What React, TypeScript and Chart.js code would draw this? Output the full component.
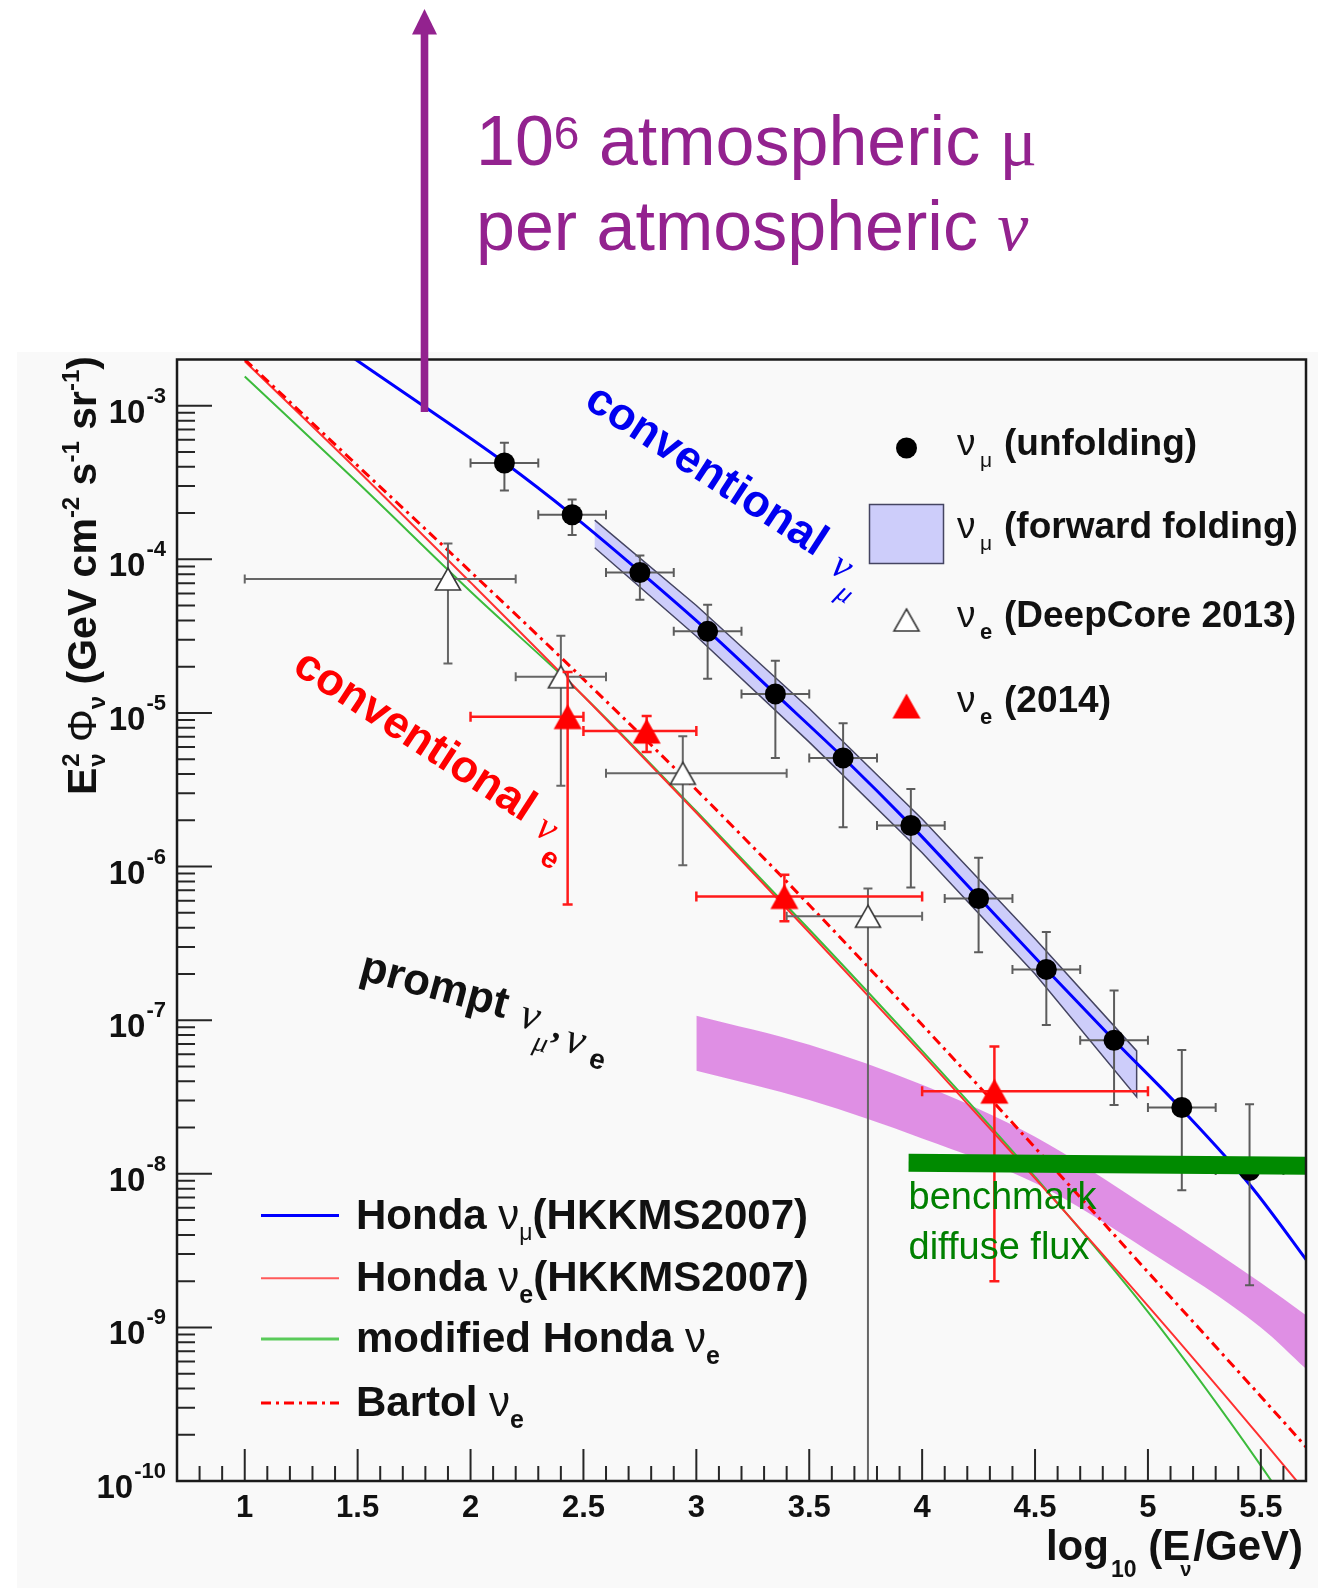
import React, { useEffect, useRef } from "react";
import { Chart, registerables } from "chart.js";

Chart.register(...registerables);

const WIDTH = 1334;
const HEIGHT = 1588;

const SANS = '"Liberation Sans", Arial, Helvetica, sans-serif';
const SERIF = '"Liberation Serif", "Times New Roman", serif';
const PURPLE = "#93228f";

// Axis ranges: x = log10(E_nu / GeV), y = E^2 Phi (GeV cm^-2 s^-1 sr^-1)
const X_MIN = 0.7;
const X_MAX = 5.7;
const Y_MIN = 1e-10;
const Y_MAX = 2e-3;
const xTickLabels = [1, 1.5, 2, 2.5, 3, 3.5, 4, 4.5, 5, 5.5];
const yTickExponents = [-10, -9, -8, -7, -6, -5, -4, -3];

// nu_mu unfolded spectrum (black circles)
const unfoldX = [2.15, 2.45, 2.75, 3.05, 3.35, 3.65, 3.95, 4.25, 4.55, 4.85, 5.15, 5.45];
const unfoldXLow = [2.0, 2.3, 2.6, 2.9, 3.2, 3.5, 3.8, 4.1, 4.4, 4.7, 5.0, 5.3];
const unfoldXHigh = [2.3, 2.6, 2.9, 3.2, 3.5, 3.8, 4.1, 4.4, 4.7, 5.0, 5.3, 5.6];
const unfoldY = [4.24e-4, 1.95e-4, 8.2e-5, 3.4e-5, 1.33e-5, 5.1e-6, 1.85e-6, 6.2e-7, 2.14e-7, 7.4e-8, 2.7e-8, 1.05e-8];
const unfoldYHigh = [5.74e-4, 2.45e-4, 1.06e-4, 5.06e-5, 2.19e-5, 8.57e-6, 3.2e-6, 1.14e-6, 3.75e-7, 1.56e-7, 6.4e-8, 2.84e-8];
const unfoldYLow = [2.81e-4, 1.44e-4, 5.46e-5, 1.67e-5, 5.1e-6, 1.8e-6, 7.3e-7, 2.77e-7, 9.3e-8, 2.8e-8, 7.8e-9, 1.88e-9];

// nu_e DeepCore 2013 (open triangles)
const dcX = [1.9, 2.4, 2.94, 3.76];
const dcXLow = [1.0, 2.2, 2.6, 3.4];
const dcXHigh = [2.2, 2.6, 3.4, 4.0];
const dcY = [7.45e-5, 1.72e-5, 4.05e-6, 4.75e-7];
const dcYHigh = [1.27e-4, 3.18e-5, 7.06e-6, 7.2e-7];
const dcYLow = [2.1e-5, 3.36e-6, 1.02e-6, 1e-11];

// nu_e 2014 (red triangles)
const nue14X = [2.43, 2.78, 3.39, 4.32];
const nue14XLow = [2.0, 2.5, 3.0, 4.0];
const nue14XHigh = [2.5, 3.0, 4.0, 5.0];
const nue14Y = [9.46e-6, 7.62e-6, 6.38e-7, 3.45e-8];
const nue14YHigh = [1.85e-5, 9.55e-6, 8.85e-7, 6.75e-8];
const nue14YLow = [5.66e-7, 5.58e-6, 4.4e-7, 2.0e-9];

// nu_mu forward folding band
const ffX = [2.55, 3.0, 3.5, 4.0, 4.5, 4.95];
const ffYUpper = [1.8e-4, 5.01e-5, 1.07e-5, 2.04e-6, 3.39e-7, 6.31e-8];
const ffYLower = [1.19e-4, 3.16e-5, 6.46e-6, 1.23e-6, 2.0e-7, 3.16e-8];

// prompt nu_mu, nu_e band
const promptX = [3.0, 3.5, 4.0, 4.5, 5.0, 5.5, 5.7];
const promptYUpper = [1.07e-7, 6.92e-8, 3.8e-8, 1.74e-8, 6.03e-9, 1.95e-9, 1.2e-9];
const promptYLower = [4.68e-8, 3.02e-8, 1.7e-8, 8.71e-9, 3.16e-9, 1.0e-9, 5.37e-10];

// Honda nu_mu (HKKMS2007)
const hondaMuX = [1.45, 1.8, 2.15, 2.45, 2.75, 3.05, 3.35, 3.65, 3.95, 4.25, 4.55, 4.85, 5.15, 5.45, 5.75];
const hondaMuY = [2.2e-3, 9.77e-4, 4.27e-4, 1.95e-4, 8.32e-5, 3.43e-5, 1.33e-5, 5.13e-6, 1.86e-6, 6.31e-7, 2.14e-7, 7.41e-8, 2.63e-8, 8.51e-9, 2.2e-9];

// nu_e model curves share the same energy grid
const nueModelX = [1.0, 1.5, 2.0, 2.5, 3.0, 3.5, 4.0, 4.5, 5.0, 5.5, 5.75];
const hondaEY = [1.95e-3, 3.8e-4, 7.08e-5, 1.29e-5, 2.24e-6, 3.72e-7, 6.03e-8, 9.33e-9, 1.38e-9, 1.91e-10, 6.9e-11];
const modHondaEY = [1.55e-3, 3.16e-4, 6.17e-5, 1.29e-5, 2.29e-6, 3.89e-7, 6.31e-8, 9.55e-9, 1.26e-9, 1.26e-10, 3.55e-11];
const bartolEY = [2.0e-3, 4.07e-4, 8.32e-5, 1.66e-5, 3.16e-6, 5.62e-7, 9.33e-8, 1.48e-8, 2.29e-9, 3.55e-10, 1.38e-10];

// benchmark diffuse flux
const benchmarkX = [3.94, 5.7];
const benchmarkY = [1.18e-8, 1.13e-8];

const COL = {
  blue: "#0000ff",
  red: "#ff3030",
  green: "#3cbb3c",
  bartol: "#ff0000",
  band: "rgba(190, 190, 250, 0.75)",
  bandEdge: "#454562",
  prompt: "rgba(216, 116, 222, 0.8)",
  bench: "#008a00",
};

const pts = (xs: number[], ys: number[]) => xs.map((x, i) => ({ x, y: ys[i] }));
const band = (xs: number[], upper: number[], lower: number[]) => [
  ...pts(xs, upper),
  ...pts(xs, lower).reverse(),
];

type Seg = { t: string; f: string; c?: string; dx?: number; dy?: number; at?: number; mid?: number; stack?: boolean };

function drawSegs(
  ctx: CanvasRenderingContext2D,
  x: number,
  y: number,
  angle: number,
  color: string,
  segs: Seg[],
  align: "left" | "right" = "left"
) {
  ctx.save();
  ctx.translate(x, y);
  if (angle) ctx.rotate(angle);
  ctx.textBaseline = "alphabetic";
  ctx.textAlign = "left";
  const placed: { s: Seg; left: number }[] = [];
  let pos = 0;
  let prevLeft = 0;
  for (const s of segs) {
    ctx.font = s.f;
    const w = ctx.measureText(s.t).width;
    let left: number;
    if (s.mid !== undefined) left = s.mid - w / 2;
    else if (s.at !== undefined) left = s.at;
    else if (s.stack) left = prevLeft;
    else left = pos + (s.dx ?? 0);
    placed.push({ s, left });
    prevLeft = left;
    pos = s.stack ? Math.max(pos, left + w) : left + w;
  }
  const shift = align === "right" ? -pos : 0;
  for (const { s, left } of placed) {
    ctx.font = s.f;
    ctx.fillStyle = s.c ?? color;
    ctx.fillText(s.t, left + shift, s.dy ?? 0);
  }
  ctx.restore();
}

function makeTriangle(w: number, h: number, fill: string, stroke: string, lw: number) {
  const c = document.createElement("canvas");
  const pad = 2;
  c.width = Math.ceil(w / 2) * 2 + pad * 2;
  c.height = Math.ceil(h / 2) * 2 + pad * 2;
  const g = c.getContext("2d")!;
  const cx = c.width / 2;
  const top = (c.height - h) / 2;
  g.beginPath();
  g.moveTo(cx, top);
  g.lineTo(cx + w / 2, top + h);
  g.lineTo(cx - w / 2, top + h);
  g.closePath();
  g.fillStyle = fill;
  g.fill();
  if (lw > 0) {
    g.strokeStyle = stroke;
    g.lineWidth = lw;
    g.lineJoin = "miter";
    g.stroke();
  }
  return c;
}

type ErrSet = {
  x: number[]; y: number[]; xLow: number[]; xHigh: number[]; yLow: number[]; yHigh: number[];
  color: string; width: number; cap: number;
};

const errorSets: Record<string, ErrSet> = {
  unfolding: { x: unfoldX, y: unfoldY, xLow: unfoldXLow, xHigh: unfoldXHigh, yLow: unfoldYLow, yHigh: unfoldYHigh, color: "#5c5c5c", width: 2, cap: 4.5 },
  deepcore: { x: dcX, y: dcY, xLow: dcXLow, xHigh: dcXHigh, yLow: dcYLow, yHigh: dcYHigh, color: "#666666", width: 2, cap: 4.5 },
  nue2014: { x: nue14X, y: nue14Y, xLow: nue14XLow, xHigh: nue14XHigh, yLow: nue14YLow, yHigh: nue14YHigh, color: "#ff1a1a", width: 2.5, cap: 5 },
};

const errorBarPlugin = {
  id: "errorBars",
  beforeDatasetDraw(chart: any, args: any) {
    const ds = chart.data.datasets[args.index];
    const set = errorSets[ds.errKey];
    if (!set) return;
    const { ctx, chartArea: a } = chart;
    const xs = chart.scales.x;
    const ys = chart.scales.y;
    ctx.save();
    ctx.beginPath();
    ctx.rect(a.left, a.top, a.right - a.left, a.bottom - a.top);
    ctx.clip();
    ctx.strokeStyle = set.color;
    ctx.lineWidth = set.width;
    ctx.beginPath();
    set.x.forEach((xv, i) => {
      const py = ys.getPixelForValue(set.y[i]);
      const px = xs.getPixelForValue(xv);
      const xl = xs.getPixelForValue(set.xLow[i]);
      const xh = xs.getPixelForValue(set.xHigh[i]);
      const yt = ys.getPixelForValue(set.yHigh[i]);
      const yb = ys.getPixelForValue(set.yLow[i]);
      ctx.moveTo(xl, py); ctx.lineTo(xh, py);
      ctx.moveTo(xl, py - set.cap); ctx.lineTo(xl, py + set.cap);
      ctx.moveTo(xh, py - set.cap); ctx.lineTo(xh, py + set.cap);
      ctx.moveTo(px, yt); ctx.lineTo(px, yb);
      ctx.moveTo(px - set.cap, yt); ctx.lineTo(px + set.cap, yt);
      ctx.moveTo(px - set.cap, yb); ctx.lineTo(px + set.cap, yb);
    });
    ctx.stroke();
    ctx.restore();
  },
};

const backgroundPlugin = {
  id: "pageBackground",
  beforeDraw(chart: any) {
    const { ctx } = chart;
    ctx.save();
    ctx.fillStyle = "#ffffff";
    ctx.fillRect(0, 0, WIDTH, HEIGHT);
    ctx.fillStyle = "#f9f9f9";
    ctx.fillRect(17, 352, 1301, HEIGHT - 352);
    ctx.restore();
  },
};

function makeDecorPlugin(triOpen: HTMLCanvasElement, triRed: HTMLCanvasElement) {
  return {
    id: "decor",
    afterDraw(chart: any) {
      const { ctx, chartArea: a } = chart;
      const xs = chart.scales.x;
      const ys = chart.scales.y;
      const deg = Math.PI / 180;

      // ticks (inside the frame)
      ctx.save();
      ctx.strokeStyle = "#262626";
      ctx.lineWidth = 2;
      ctx.beginPath();
      for (const e of yTickExponents) {
        for (let k = 1; k <= 9; k++) {
          const v = k * Math.pow(10, e);
          if (v > Y_MAX * 0.999) continue;
          const py = ys.getPixelForValue(v);
          const len = k === 1 ? 35 : 18;
          ctx.moveTo(a.left, py);
          ctx.lineTo(a.left + len, py);
        }
      }
      for (let i = Math.round(X_MIN * 10) + 1; i < Math.round(X_MAX * 10); i++) {
        const px = xs.getPixelForValue(i / 10);
        const len = i % 5 === 0 ? 32 : 15;
        ctx.moveTo(px, a.bottom);
        ctx.lineTo(px, a.bottom - len);
      }
      ctx.stroke();
      ctx.lineWidth = 2.5;
      ctx.strokeStyle = "#1a1a1a";
      ctx.strokeRect(a.left, a.top, a.right - a.left, a.bottom - a.top);
      ctx.restore();

      // tick labels
      for (const e of yTickExponents) {
        const py = ys.getPixelForValue(Math.pow(10, e));
        drawSegs(ctx, 166, py + 17, 0, "#111", [
          { t: "10", f: `bold 33px ${SANS}` },
          { t: String(e), f: `bold 22px ${SANS}`, dy: -20, dx: 1 },
        ], "right");
      }
      ctx.save();
      ctx.fillStyle = "#111";
      ctx.font = `bold 31px ${SANS}`;
      ctx.textAlign = "center";
      ctx.textBaseline = "alphabetic";
      for (const v of xTickLabels) {
        ctx.fillText(String(v), xs.getPixelForValue(v), 1517);
      }
      ctx.restore();

      // axis titles
      const B41 = `bold 41px ${SANS}`;
      const B24 = `bold 24px ${SANS}`;
      drawSegs(ctx, 96, 795, -90 * deg, "#111", [
        { t: "E", f: B41 },
        { t: "2", f: B24, dy: -17, dx: 1 },
        { t: "ν", f: B24, dy: 9, stack: true },
        { t: " Φ", f: `41px ${SANS}` },
        { t: "ν", f: B24, dy: 9 },
        { t: " (GeV cm", f: B41 },
        { t: "-2", f: B24, dy: -17 },
        { t: " s", f: B41 },
        { t: "-1", f: B24, dy: -17 },
        { t: " sr", f: B41 },
        { t: "-1", f: B24, dy: -17 },
        { t: ")", f: B41 },
      ]);
      drawSegs(ctx, 1303, 1560, 0, "#111", [
        { t: "log", f: `bold 42px ${SANS}` },
        { t: "10", f: `bold 23px ${SANS}`, dy: 17, dx: 2 },
        { t: " (E", f: `bold 42px ${SANS}` },
        { t: "ν", f: `bold 20px ${SANS}`, dy: 16, dx: -10 },
        { t: "/GeV)", f: `bold 42px ${SANS}`, dx: 2 },
      ], "right");

      // in-plot annotations
      drawSegs(ctx, 582.7, 406, 33 * deg, "#0000f0", [
        { t: "conventional", f: `bold 45px ${SANS}` },
        { t: "ν", f: `italic 40px ${SERIF}`, mid: 305, dy: 5 },
        { t: "μ", f: `italic 28px ${SERIF}`, mid: 322, dy: 23 },
      ]);
      drawSegs(ctx, 291, 671.5, 33 * deg, "#ff0000", [
        { t: "conventional", f: `bold 45px ${SANS}` },
        { t: "ν", f: `italic 40px ${SERIF}`, mid: 300, dy: 4 },
        { t: "e", f: `bold 29px ${SANS}`, mid: 319, dy: 25 },
      ]);
      drawSegs(ctx, 358, 979, 15 * deg, "#111", [
        { t: "prompt", f: `bold 44px ${SANS}` },
        { t: "ν", f: `italic 44px ${SERIF}`, mid: 176, dy: 4 },
        { t: "μ", f: `italic 28px ${SERIF}`, mid: 193, dy: 23 },
        { t: ",", f: `bold 36px ${SERIF}`, mid: 206, dy: 6 },
        { t: "ν", f: `italic 44px ${SERIF}`, mid: 226, dy: 16 },
        { t: "e", f: `bold 28px ${SANS}`, mid: 252, dy: 25 },
      ]);
      ctx.save();
      ctx.fillStyle = "#008000";
      ctx.font = `38px ${SANS}`;
      ctx.textBaseline = "alphabetic";
      ctx.textAlign = "left";
      ctx.fillText("benchmark", 908.5, 1209);
      ctx.fillText("diffuse flux", 908.5, 1259);
      ctx.restore();

      // marker legend (top right)
      const B37 = `bold 37px ${SANS}`;
      const R37 = `37px ${SANS}`;
      ctx.save();
      ctx.fillStyle = "#000";
      ctx.beginPath();
      ctx.arc(906.5, 448, 10.5, 0, Math.PI * 2);
      ctx.fill();
      ctx.fillStyle = COL.band;
      ctx.fillRect(869.5, 504.5, 74, 59);
      ctx.strokeStyle = COL.bandEdge;
      ctx.lineWidth = 1.5;
      ctx.strokeRect(869.5, 504.5, 74, 59);
      ctx.drawImage(triOpen, 906.5 - triOpen.width / 2, 620 - triOpen.height / 2);
      ctx.drawImage(triRed, 906.5 - triRed.width / 2, 706 - triRed.height / 2);
      ctx.restore();
      const legRows: [number, string, string][] = [
        [455, "μ", "(unfolding)"],
        [538, "μ", "(forward folding)"],
        [627, "e", "(DeepCore 2013)"],
        [712, "e", "(2014)"],
      ];
      for (const [by, sub, txt] of legRows) {
        drawSegs(ctx, 957, by, 0, "#111", [
          { t: "ν", f: R37 },
          { t: sub, f: sub === "μ" ? `21px ${SANS}` : `bold 22px ${SANS}`, at: 23, dy: 12 },
          { t: txt, f: B37, at: 47 },
        ]);
      }

      // line legend (bottom left)
      const LB = `bold 42px ${SANS}`;
      const LR = `42px ${SANS}`;
      const lineRows: { y: number; color: string; w: number; dash: number[]; label: Seg[] }[] = [
        { y: 1215.5, color: COL.blue, w: 3, dash: [], label: [{ t: "Honda ", f: LB }, { t: "ν", f: LR }, { t: "μ", f: `23px ${SANS}`, dy: 11 }, { t: "(HKKMS2007)", f: LB }] },
        { y: 1278.3, color: "#ff5a5a", w: 2, dash: [], label: [{ t: "Honda ", f: LB }, { t: "ν", f: LR }, { t: "e", f: `bold 25px ${SANS}`, dy: 12 }, { t: "(HKKMS2007)", f: LB }] },
        { y: 1339, color: "#5acb5a", w: 3, dash: [], label: [{ t: "modified Honda ", f: LB }, { t: "ν", f: LR }, { t: "e", f: `bold 25px ${SANS}`, dy: 12 }] },
        { y: 1403, color: COL.bartol, w: 3, dash: [10, 5, 3, 5], label: [{ t: "Bartol ", f: LB }, { t: "ν", f: LR }, { t: "e", f: `bold 25px ${SANS}`, dy: 12 }] },
      ];
      for (const r of lineRows) {
        ctx.save();
        ctx.strokeStyle = r.color;
        ctx.lineWidth = r.w;
        ctx.setLineDash(r.dash);
        ctx.beginPath();
        ctx.moveTo(261, r.y);
        ctx.lineTo(339, r.y);
        ctx.stroke();
        ctx.restore();
        drawSegs(ctx, 356, r.y + 13, 0, "#111", r.label);
      }

      // purple arrow and caption above the frame
      ctx.save();
      ctx.fillStyle = PURPLE;
      ctx.fillRect(420.7, 32, 7.6, 412 - 32);
      ctx.beginPath();
      ctx.moveTo(424.5, 9);
      ctx.lineTo(437, 34.5);
      ctx.lineTo(412, 34.5);
      ctx.closePath();
      ctx.fill();
      ctx.restore();
      drawSegs(ctx, 476, 165, 0, PURPLE, [
        { t: "10", f: `70px ${SANS}` },
        { t: "6", f: `46px ${SANS}`, dy: -16, dx: 0 },
        { t: " atmospheric ", f: `70px ${SANS}` },
        { t: "μ", f: `70px ${SERIF}` },
      ]);
      drawSegs(ctx, 476, 250, 0, PURPLE, [
        { t: "per atmospheric ", f: `70px ${SANS}` },
        { t: "ν", f: `italic 70px ${SERIF}` },
      ]);
    },
  };
}

export default function App() {
  const ref = useRef<HTMLCanvasElement>(null);

  useEffect(() => {
    const canvas = ref.current;
    if (!canvas) return;
    const triOpen = makeTriangle(25, 22, "#ffffff", "#3a3a3a", 1.6);
    const triRed = makeTriangle(28, 25, "#ff0000", "#ff0000", 0);

    const curve = (label: string, xs: number[], ys: number[], color: string, width: number, order: number, dash: number[] = []) => ({
      label,
      data: pts(xs, ys),
      borderColor: color,
      borderWidth: width,
      borderDash: dash,
      pointRadius: 0,
      fill: false,
      cubicInterpolationMode: "monotone" as const,
      clip: 0,
      order,
    });

    const chart = new Chart(canvas, {
      type: "line",
      data: {
        datasets: [
          {
            label: "prompt νμ, νe",
            data: pts(promptX, promptYUpper),
            borderColor: "rgba(0,0,0,0)",
            borderWidth: 0,
            backgroundColor: COL.prompt,
            fill: "+1",
            pointRadius: 0,
            cubicInterpolationMode: "monotone",
            clip: 0,
            order: 60,
          },
          {
            label: "prompt lower edge",
            data: pts(promptX, promptYLower),
            borderColor: "rgba(0,0,0,0)",
            borderWidth: 0,
            fill: false,
            pointRadius: 0,
            cubicInterpolationMode: "monotone",
            clip: 0,
            order: 61,
          },
          {
            label: "νμ (forward folding)",
            data: band(ffX, ffYUpper, ffYLower),
            borderColor: COL.bandEdge,
            borderWidth: 1.5,
            backgroundColor: COL.band,
            fill: "shape",
            pointRadius: 0,
            tension: 0,
            clip: 0,
            order: 50,
          } as any,
          curve("modified Honda νe", nueModelX, modHondaEY, COL.green, 2, 40),
          curve("Honda νe(HKKMS2007)", nueModelX, hondaEY, COL.red, 2, 39),
          curve("Bartol νe", nueModelX, bartolEY, COL.bartol, 3, 38, [10, 5, 3, 5]),
          curve("Honda νμ(HKKMS2007)", hondaMuX, hondaMuY, COL.blue, 3, 37),
          {
            label: "νe (DeepCore 2013)",
            errKey: "deepcore",
            data: pts(dcX, dcY),
            showLine: false,
            pointStyle: triOpen,
            pointRadius: 13,
            order: 20,
          } as any,
          {
            label: "νμ (unfolding)",
            errKey: "unfolding",
            data: pts(unfoldX, unfoldY),
            showLine: false,
            pointStyle: "circle",
            pointRadius: 10.5,
            pointBackgroundColor: "#000",
            pointBorderColor: "#000",
            pointBorderWidth: 0,
            order: 10,
          } as any,
          {
            label: "νe (2014)",
            errKey: "nue2014",
            data: pts(nue14X, nue14Y),
            showLine: false,
            pointStyle: triRed,
            pointRadius: 14,
            order: 5,
          } as any,
          {
            label: "benchmark diffuse flux",
            data: pts(benchmarkX, benchmarkY),
            borderColor: COL.bench,
            borderWidth: 18,
            borderCapStyle: "butt",
            pointRadius: 0,
            fill: false,
            tension: 0,
            clip: 0,
            order: 1,
          } as any,
        ],
      },
      options: {
        responsive: false,
        maintainAspectRatio: false,
        animation: false,
        devicePixelRatio: 1,
        layout: { padding: { left: 177, top: 359.5, right: WIDTH - 1306, bottom: HEIGHT - 1481 } },
        scales: {
          x: { type: "linear", min: X_MIN, max: X_MAX, display: false },
          y: { type: "logarithmic", min: Y_MIN, max: Y_MAX, display: false },
        },
        plugins: {
          legend: { display: false },
          tooltip: { enabled: false },
        },
        events: [],
      },
      plugins: [backgroundPlugin, errorBarPlugin, makeDecorPlugin(triOpen, triRed)],
    } as any);

    return () => chart.destroy();
  }, []);

  return (
    <div style={{ position: "absolute", left: 0, top: 0, width: WIDTH, height: HEIGHT, background: "#fff" }}>
      <canvas ref={ref} width={WIDTH} height={HEIGHT} style={{ display: "block", width: WIDTH, height: HEIGHT }} />
    </div>
  );
}
